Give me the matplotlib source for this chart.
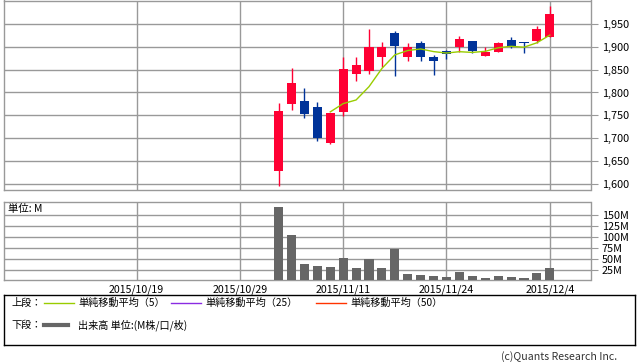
import matplotlib
matplotlib.use('Agg')
import matplotlib.pyplot as plt
import pandas as pd

plt.rcParams['font.family'] = ['Noto Sans CJK JP', 'DejaVu Sans']

# trading days shown on the axis (10/19 .. 12/4)
axis_days = ['2015/10/19', '2015/10/20', '2015/10/21', '2015/10/22', '2015/10/23',
             '2015/10/26', '2015/10/27', '2015/10/28', '2015/10/29', '2015/10/30',
             '2015/11/2', '2015/11/4', '2015/11/5', '2015/11/6', '2015/11/9',
             '2015/11/10', '2015/11/11', '2015/11/12', '2015/11/13', '2015/11/16',
             '2015/11/17', '2015/11/18', '2015/11/19', '2015/11/20', '2015/11/24',
             '2015/11/25', '2015/11/26', '2015/11/27', '2015/11/30', '2015/12/1',
             '2015/12/2', '2015/12/3', '2015/12/4']

dates = axis_days[11:]
opens = [1628, 1775, 1781, 1768, 1689, 1757, 1841, 1848, 1877, 1931, 1879,
         1908, 1879, 1891, 1900, 1914, 1881, 1890, 1916, 1910, 1914, 1921]
highs = [1776, 1854, 1810, 1779, 1755, 1878, 1878, 1940, 1911, 1936, 1908,
         1914, 1882, 1894, 1925, 1914, 1900, 1910, 1922, 1911, 1947, 1991]
lows = [1595, 1761, 1744, 1693, 1688, 1748, 1826, 1841, 1857, 1837, 1870,
        1869, 1839, 1874, 1889, 1886, 1881, 1888, 1897, 1886, 1908, 1921]
closes = [1760, 1820, 1753, 1700, 1754, 1851, 1860, 1899, 1900, 1903, 1899,
          1877, 1870, 1884, 1918, 1891, 1889, 1909, 1900, 1908, 1940, 1973]
volumes = [168, 104, 38, 34, 32, 52, 29, 49, 29, 73, 16,
           14, 11, 9, 20, 11, 7, 11, 9, 7, 18, 29]  # M

tick_dates = ['2015/10/19', '2015/10/29', '2015/11/11', '2015/11/24', '2015/12/4']
price_ticks = [1600, 1650, 1700, 1750, 1800, 1850, 1900, 1950]
vol_ticks = [25, 50, 75, 100, 125, 150]

W, H = 638, 362
fig = plt.figure(figsize=(W / 100, H / 100), dpi=100)
grid_c = '#999999'
up_c, down_c = '#ff0033', '#003399'

def px_axes(x0, y0, x1, y1):
    return fig.add_axes([x0 / W, 1 - y1 / H, (x1 - x0) / W, (y1 - y0) / H])

ax = px_axes(3.5, 0.5, 590.5, 189.5)
axv = px_axes(3.5, 201.5, 590.5, 280)

xs = [axis_days.index(d) for d in dates]
tick_x = [axis_days.index(d) for d in tick_dates]

for a in (ax, axv):
    a.set_xlim(-10.3, 35.15)
    a.set_xticks(tick_x)
    a.grid(True, color=grid_c, lw=1)
    a.set_axisbelow(True)
    for s in a.spines.values():
        s.set_color(grid_c)
        s.set_linewidth(1)
    a.yaxis.tick_right()
    a.tick_params(axis='y', length=5, color=grid_c, labelsize=7.8, pad=3)
    a.tick_params(axis='x', length=0, labelsize=7.6, pad=3)

# candles
for x, o, h, l, c in zip(xs, opens, highs, lows, closes):
    col = up_c if c >= o else down_c
    ax.vlines(x, l, h, color=col, lw=1, zorder=2)
    ax.bar(x, max(abs(c - o), 1), bottom=min(o, c), width=0.7, color=col, zorder=3)

ma5 = pd.Series(closes).rolling(5).mean()
ax.plot(xs, ma5, color='#99cc00', lw=1, zorder=4)

ax.set_ylim(1587, 2002)
ax.set_yticks(price_ticks)
ax.set_yticklabels([f'{v:,}' for v in price_ticks])
ax.set_xticklabels([])

axv.bar(xs, volumes, width=0.7, color='#666666', zorder=3)
axv.set_ylim(2, 180)
axv.set_yticks(vol_ticks)
axv.set_yticklabels([f'{v}M' for v in vol_ticks])
axv.set_xticklabels(tick_dates)
axv.text(0.008, 0.9, '単位: M', transform=axv.transAxes, fontsize=7.5, va='center')

# legend box
lg = px_axes(3.5, 295, 635, 345)
lg.set_xlim(0, 631.5)
lg.set_ylim(50, 0)
lg.set_xticks([])
lg.set_yticks([])
for s in lg.spines.values():
    s.set_color('black')
    s.set_linewidth(1)
fs = 7.3
lg.text(8, 8, '上段：', fontsize=fs, va='center')
items = [(40, '#99cc00', '単純移動平均（5）'),
         (167, '#8a2be2', '単純移動平均（25）'),
         (312, '#ff3300', '単純移動平均（50）')]
for x0, col, lab in items:
    lg.plot([x0, x0 + 30], [8, 8], color=col, lw=1)
    lg.text(x0 + 35, 8, lab, fontsize=fs, va='center')
lg.text(8, 30, '下段：', fontsize=fs, va='center')
lg.plot([40, 64], [30, 30], color='#666666', lw=3)
lg.text(75, 30, '出来高 単位:(M株/口/枚)', fontsize=fs, va='center')

fig.text(617 / W, 1 - 357 / H, '(c)Quants Research Inc.', fontsize=7.6,
         ha='right', va='center', color='#333333')

fig.savefig('out.png', dpi=100)
